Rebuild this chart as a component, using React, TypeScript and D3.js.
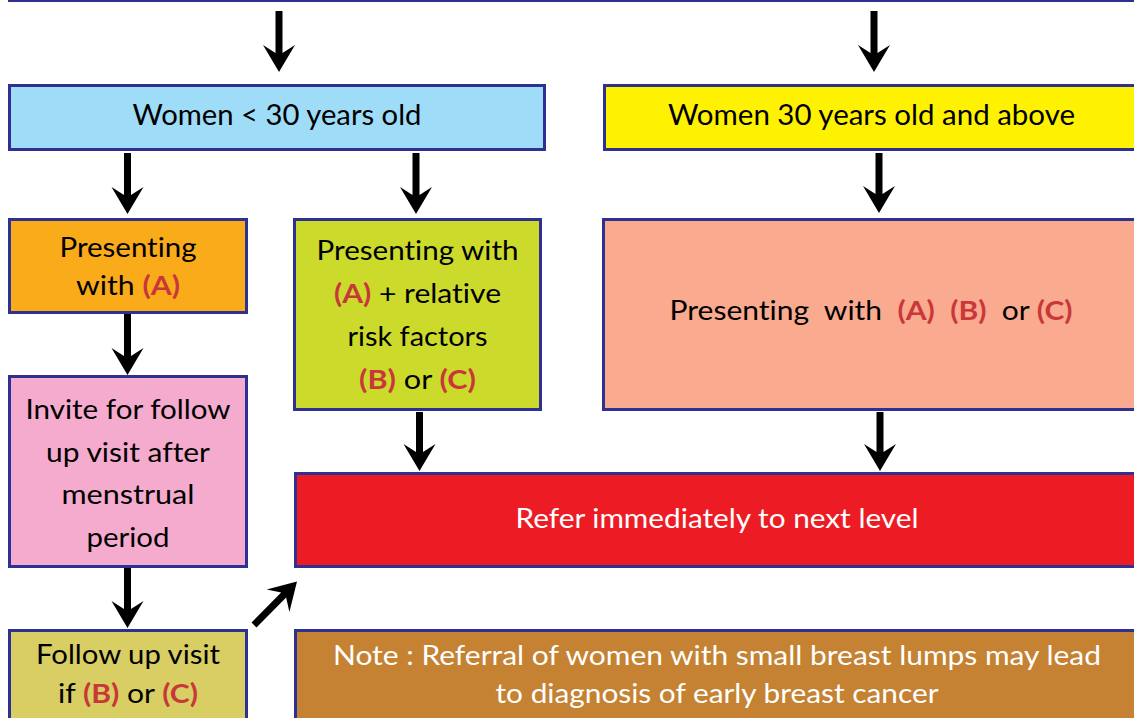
import React from "react";
import * as d3 from "d3";

// ---- content ----
const boxIds = ["top", "young", "older", "presentA", "presentARisk", "presentABC", "invite", "refer", "followUp", "note"];
const boxLines: string[][] = [
  [],
  ["Women < 30 years old"],
  ["Women 30 years old and above"],
  ["Presenting", "with [(A)]"],
  ["Presenting with", "[(A)] + relative", "risk factors", "[(B)] or [(C)]"],
  ["Presenting  with  [(A)]  [(B)]  or [(C)]"],
  ["Invite for follow", "up visit after", "menstrual", "period"],
  ["Refer immediately to next level"],
  ["Follow up visit", "if [(B)] or [(C)]"],
  ["Note : Referral of women with small breast lumps may lead", "to diagnosis of early breast cancer"],
];
const links: [string, string][] = [
  ["top", "young"], ["top", "older"], ["young", "presentA"], ["young", "presentARisk"], ["older", "presentABC"],
  ["presentA", "invite"], ["presentARisk", "refer"], ["presentABC", "refer"], ["invite", "followUp"], ["followUp", "refer"],
];

// ---- layout (outer bounds: x0, y0, x1, y1) ----
const boxRect: Record<string, [number, number, number, number]> = {
  top: [8, -60, 1140, 2],
  young: [8, 84, 546, 151],
  older: [603, 84, 1140, 151],
  presentA: [8, 218, 248, 314],
  presentARisk: [293, 218, 542, 411],
  presentABC: [602, 218, 1140, 411],
  invite: [8, 375, 248, 568],
  refer: [294, 472, 1140, 568],
  followUp: [8, 629, 248, 730],
  note: [294, 629, 1140, 730],
};
const boxFill: Record<string, string> = {
  top: "#ffffff",
  young: "#9edcf7",
  older: "#fff200",
  presentA: "#faab1a",
  presentARisk: "#ccdb2b",
  presentABC: "#f9aa8f",
  invite: "#f5abcd",
  refer: "#ed1c24",
  followUp: "#d8ce63",
  note: "#c48232",
};
const boxTextColor: Record<string, string> = {
  refer: "#ffffff",
  note: "#ffffff",
};
// first baseline, line step, font size
const textLayout: Record<string, [number, number, number]> = {
  young: [125, 0, 28],
  older: [125, 0, 28],
  presentA: [257, 38, 27],
  presentARisk: [260, 43, 27],
  presentABC: [320, 0, 27],
  invite: [419, 42.5, 27],
  refer: [528, 0, 27],
  followUp: [664, 39, 26],
  note: [665, 38, 26],
};
const lineWidths: Record<string, number[]> = {
  young: [289],
  older: [407],
  presentA: [137, 104],
  presentARisk: [202, 167, 140, 117],
  presentABC: [403],
  invite: [205, 164, 133, 83],
  refer: [403],
  followUp: [184, 140],
  note: [768, 443],
};
// arrows: tail x, tail y, tip x, tip y
const arrowPos: [number, number, number, number][] = [
  [279, 11, 279, 72],
  [874, 11, 874, 72],
  [127.5, 153, 127.5, 214],
  [416, 153, 416, 214],
  [879, 153, 879, 213],
  [127.5, 314, 127.5, 375],
  [419.5, 412, 419.5, 471],
  [880, 412, 880, 471],
  [127.5, 568, 127.5, 628],
  [254, 625, 297, 581.5],
];

const BORDER = "#2e3192";
const HILITE = "#c8383a";
const FONT = "Lato, 'Open Sans', sans-serif";

function parseLine(s: string) {
  const parts: { t: string; hi: boolean }[] = [];
  const re = /\[([^\]]+)\]/g;
  let last = 0;
  let m: RegExpExecArray | null;
  while ((m = re.exec(s))) {
    if (m.index > last) parts.push({ t: s.slice(last, m.index), hi: false });
    parts.push({ t: m[1], hi: true });
    last = m.index + m[0].length;
  }
  if (last < s.length) parts.push({ t: s.slice(last), hi: false });
  return parts;
}

const lineGen = d3.line<[number, number]>().x((d) => d[0]).y((d) => d[1]);

function arrowPath(x0: number, y0: number, x1: number, y1: number) {
  const len = Math.hypot(x1 - x0, y1 - y0);
  const ux = (x1 - x0) / len, uy = (y1 - y0) / len;
  const nx = -uy, ny = ux;
  const hw = 3.5, HW = 16, HL = 27, notch = 8;
  const p = (t: number, s: number): [number, number] => [x1 - ux * t + nx * s, y1 - uy * t + ny * s];
  const pts: [number, number][] = [
    [x0 + nx * hw, y0 + ny * hw],
    p(HL - notch, hw),
    p(HL, HW),
    [x1, y1],
    p(HL, -HW),
    p(HL - notch, -hw),
    [x0 - nx * hw, y0 - ny * hw],
  ];
  return lineGen(pts) + "Z";
}

export default function App() {
  return (
    <svg
      width={1134}
      height={718}
      style={{ position: "fixed", left: 0, top: 0, background: "#ffffff" }}
      fontFamily={FONT}
    >
      <rect x={0} y={0} width={1134} height={718} fill="#ffffff" />
      {boxIds.map((id) => {
        const [x0, y0, x1, y1] = boxRect[id];
        return (
          <rect
            key={id}
            x={x0 + 1.5}
            y={y0 + 1.5}
            width={x1 - x0 - 3}
            height={y1 - y0 - 3}
            fill={boxFill[id]}
            stroke={BORDER}
            strokeWidth={3}
          />
        );
      })}
      {links.map((l, i) => {
        const [a, b, c, d] = arrowPos[i];
        return <path key={l.join("-")} d={arrowPath(a, b, c, d)} fill="#000000" />;
      })}
      {boxIds.map((id, bi) => {
        const lines = boxLines[bi];
        if (!lines.length) return null;
        const [x0, , x1] = boxRect[id];
        const cx = (x0 + x1) / 2;
        const [b0, step, fs] = textLayout[id];
        const col = boxTextColor[id] || "#000000";
        return lines.map((ln, li) => (
          <text
            key={id + li}
            x={cx}
            y={b0 + li * step}
            textAnchor="middle"
            fontSize={fs}
            fill={col}
            textLength={lineWidths[id][li]}
            lengthAdjust="spacingAndGlyphs"
            style={{ whiteSpace: "pre", fontVariantLigatures: "none", fontFeatureSettings: "'liga' 0, 'clig' 0" }}
          >
            {parseLine(ln).map((p, pi) => (
              <tspan key={pi} fill={p.hi ? HILITE : col} fontWeight={p.hi ? 700 : 400}>
                {p.t}
              </tspan>
            ))}
          </text>
        ));
      })}
    </svg>
  );
}
